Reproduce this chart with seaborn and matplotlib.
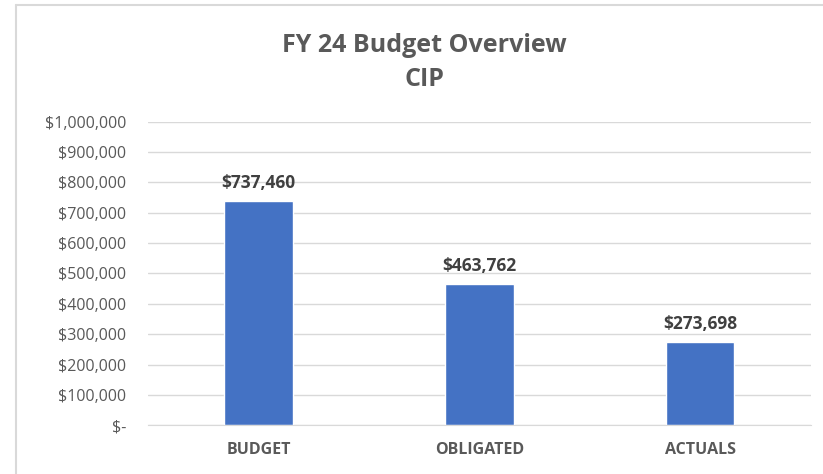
import seaborn as sns
import pandas as pd
import matplotlib.pyplot as plt
from matplotlib.lines import Line2D
from matplotlib.ticker import FuncFormatter

categories = ["BUDGET", "OBLIGATED", "ACTUALS"]
amounts = [737460, 463762, 273698]

df = pd.DataFrame({"category": categories, "amount": amounts})

sns.set_style("white")
plt.rcParams['font.family'] = ['Open Sans', 'DejaVu Sans']

fig = plt.figure(figsize=(8.23, 4.74), dpi=100)
ax = fig.add_axes([0.18, 0.103, 0.805, 0.64])

sns.barplot(df, x="category", y="amount", color="#4472C4", width=0.31,
            saturation=1, ax=ax)

ax.set_ylim(0, 1000000)
ax.set_yticks(range(0, 1000001, 100000))
ax.yaxis.set_major_formatter(FuncFormatter(
    lambda v, p: "$-" if v == 0 else f"${v:,.0f}"))
ax.grid(axis="y", color="#D9D9D9", linewidth=1)
ax.set_axisbelow(True)
for s in ["top", "right", "left"]:
    ax.spines[s].set_visible(False)
ax.spines["bottom"].set_color("#D9D9D9")
ax.tick_params(axis="both", length=0, colors="#595959")
ax.tick_params(axis="y", pad=16, labelsize=11.5)
ax.tick_params(axis="x", pad=12, labelsize=11.5)
for lbl in ax.get_xticklabels():
    lbl.set_fontweight("bold")
ax.set_xlabel("")
ax.set_ylabel("")

for i, v in enumerate(amounts):
    ax.text(i, v + 60000, f"${v:,.0f}", ha="center", va="center",
            fontsize=12.5, fontweight="bold", color="#404040")

fig.text(0.516, 0.868, "FY 24 Budget Overview\nCIP", ha="center", va="center",
         fontsize=18, fontweight="bold", color="#595959", linespacing=1.5)

# chart border (only left and top edges visible in the crop)
fig.add_artist(Line2D([0.02, 0.02], [0, 0.99], transform=fig.transFigure,
                      color="#D9D9D9", linewidth=1.5))
fig.add_artist(Line2D([0.02, 1], [0.99, 0.99], transform=fig.transFigure,
                      color="#D9D9D9", linewidth=1.5))

fig.savefig("out.png", dpi=100)
